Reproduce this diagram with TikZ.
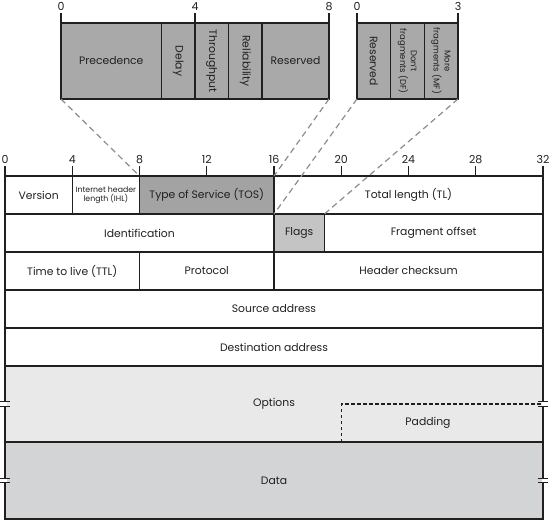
\documentclass[tikz,border=0pt]{standalone}
\usepackage{fontspec}
\setmainfont{Poppins}
\definecolor{tosgray}{HTML}{A3A3A3}
\definecolor{topgray}{HTML}{A9A9A9}
\definecolor{flaggray}{HTML}{C4C4C4}
\definecolor{optgray}{HTML}{E9E9EA}
\definecolor{datagray}{HTML}{D3D4D5}
\definecolor{dashgray}{HTML}{8C8C8C}
\definecolor{ink}{HTML}{231F20}
\tikzset{
  box/.style={draw=ink, line width=1.2pt, inner sep=0pt, outer sep=0pt, text=ink,
    font=\fontsize{10.8}{12}\selectfont, align=center},
  rowbox/.style={box, minimum height=38pt},
  detail/.style={box, fill=topgray, minimum height=76pt},
  tick/.style={draw=ink, line width=1.2pt},
  num/.style={text=ink, font=\fontsize{11}{12}\selectfont, inner sep=0pt},
  dashline/.style={draw=dashgray, line width=1.2pt, dash pattern=on 6pt off 4pt},
  paddash/.style={draw=ink, line width=1.2pt, dash pattern=on 3.5pt off 2.5pt},
  brk/.style={draw=ink, line width=1.1pt},
}
\begin{document}
\begin{tikzpicture}[x=1pt,y=-1pt]
\useasboundingbox (0,0) rectangle (549,520);
% ---------- detail: Type of Service ----------
\node[detail, minimum width=268pt] (tosd) at (195,61) {};
\node[detail, minimum width=100.5pt] (prec) at (111.25,61) {Precedence};
\node[detail, minimum width=33.5pt] (delay) at (178.25,61) {\rotatebox{-90}{Delay}};
\node[detail, minimum width=33.5pt] (thr) at (211.75,61) {\rotatebox{-90}{Throughput}};
\node[detail, minimum width=33.5pt] (rel) at (245.25,61) {\rotatebox{-90}{Reliability}};
\node[detail, minimum width=67pt] (resd) at (295.5,61) {Reserved};
\draw[tick] (tosd.north west) -- ++(0,-10) node[num, above=2pt] (d0) {0};
\draw[tick] (thr.north west) -- ++(0,-10) node[num, above=2pt] (d4) {4};
\draw[tick] (tosd.north east) -- ++(0,-10) node[num, above=2pt] (d8) {8};
% ---------- detail: Flags ----------
\node[detail, minimum width=101pt] (flagsd) at (407.5,61) {};
\node[detail, minimum width=33.67pt] (fres) at (373.83,61) {\rotatebox{-90}{Reserved}};
\node[detail, minimum width=33.67pt] (fdf) at (407.5,61) {\rotatebox{-90}{\fontsize{8.5}{10}\selectfont\begin{tabular}{@{}c@{}}Don't\\fragments (DF)\end{tabular}}};
\node[detail, minimum width=33.67pt] (fmf) at (441.17,61) {\rotatebox{-90}{\fontsize{8.5}{10}\selectfont\begin{tabular}{@{}c@{}}More\\fragments (MF)\end{tabular}}};
\draw[tick] (flagsd.north west) -- ++(0,-10) node[num, above=2pt] (f0) {0};
\draw[tick] (flagsd.north east) -- ++(0,-10) node[num, above=2pt] (f3) {3};
% ---------- main header ----------
% row 1
\node[rowbox, minimum width=67.25pt] (ver) at (38.625,195) {Version};
\node[rowbox, minimum width=67.25pt, font=\fontsize{7.8}{9.5}\selectfont] (ihl) at (105.875,195) {Internet header\\length (IHL)};
\node[rowbox, minimum width=134.5pt, fill=tosgray] (tos) at (206.75,195) {Type of Service (TOS)};
\node[rowbox, minimum width=269pt] (tl) at (408.5,195) {Total length (TL)};
% row 2
\node[rowbox, minimum width=269pt] (ident) at (139.5,233) {Identification};
\node[rowbox, minimum width=50.4pt, fill=flaggray] (flags) at (299.2,233) {Flags};
\node[rowbox, minimum width=218.6pt] (frag) at (433.7,233) {Fragment offset};
% row 3
\node[rowbox, minimum width=134.5pt] (ttl) at (72.25,271) {Time to live (TTL)};
\node[rowbox, minimum width=134.5pt] (proto) at (206.75,271) {Protocol};
\node[rowbox, minimum width=269pt] (chk) at (408.5,271) {Header checksum};
% row 4, 5
\node[rowbox, minimum width=538pt] (src) at (274,309) {Source address};
\node[rowbox, minimum width=538pt] (dst) at (274,347) {Destination address};
% options, data
\node[box, fill=optgray, minimum width=538pt, minimum height=76pt] (opt) at (274,404) {};
\node[box, fill=datagray, minimum width=538pt, minimum height=77pt] (data) at (274,480.5) {};
\node[box, draw=none] (optl) at (274,404) {Options};
\node[box, draw=none] (datal) at (274,480.5) {Data};
\coordinate (padc) at (341.25,404);
\coordinate (padr) at (opt.east |- padc);
\coordinate (padb) at (padc |- opt.south);
\draw[paddash] (padb) -- (padc) -- (padr);
\node[box, draw=none] (padl) at (428,423) {Padding};
% break marks
\foreach \bx/\by in {5/404, 543/404, 5/480.5, 543/480.5}{
  \fill[white] (\bx-1.5,\by-1.6) rectangle (\bx+1.5,\by+1.6);
  \draw[brk] (\bx-5,\by-2.2) -- (\bx+5,\by-2.2);
  \draw[brk] (\bx-5,\by+2.2) -- (\bx+5,\by+2.2);
}
% bit ticks
\foreach \b in {0,4,...,32}{
  \draw[tick] ({5+\b*16.8125},176) -- ++(0,-10) node[num, above=2pt] (t\b) {\b};
}
% ---------- dashed connectors ----------
\draw[dashline] (tosd.south west) -- (tos.north west);
\draw[dashline] (tosd.south east) -- (tos.north east);
\draw[dashline] (flagsd.south west) -- (flags.north west);
\draw[dashline] (flagsd.south east) -- (flags.north east);
\end{tikzpicture}
\end{document}
